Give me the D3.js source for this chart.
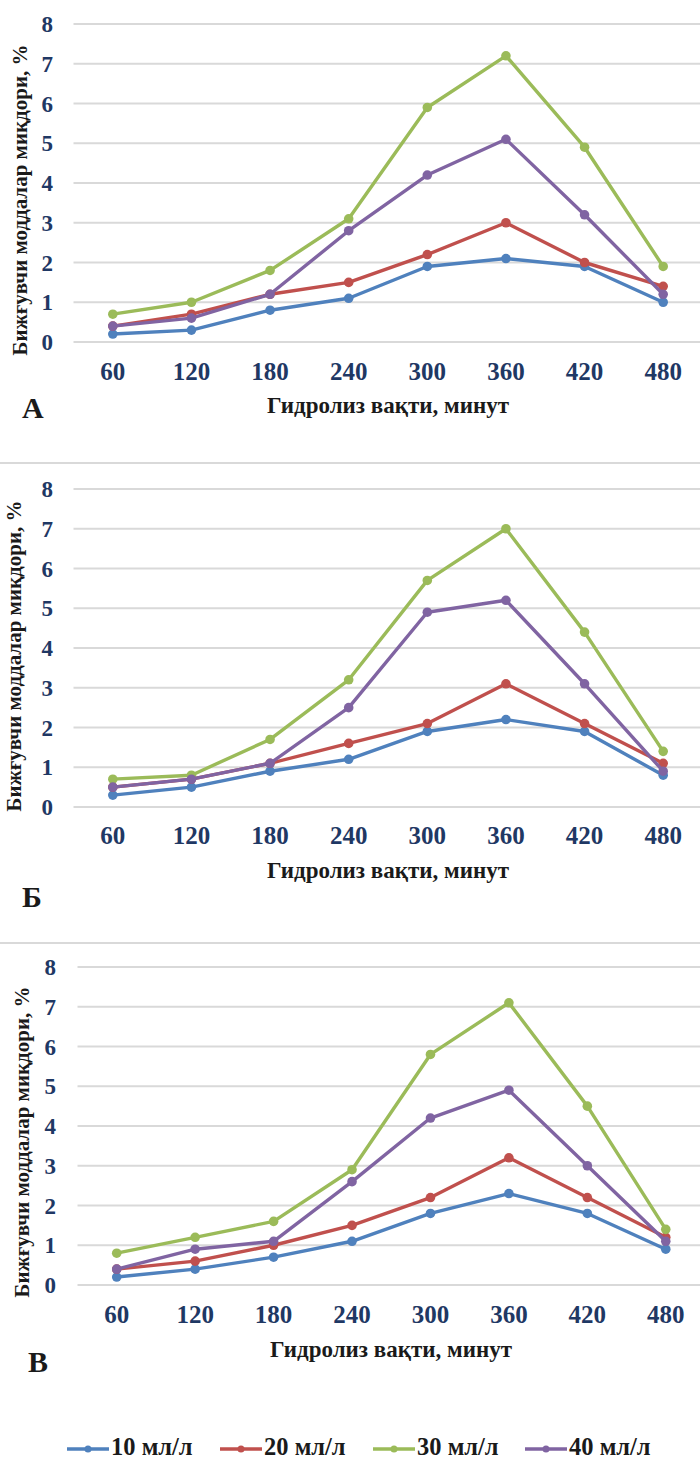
<!DOCTYPE html>
<html>
<head>
<meta charset="utf-8">
<script src="https://cdn.jsdelivr.net/npm/d3@7"></script>
<style>
  body { margin: 0; background: #fff; }
  svg { display: block; font-family: "Liberation Serif", "Times New Roman", serif; font-weight: bold; }
</style>
</head>
<body>
<div id="chart"></div>
<script>
// data
const times = ["60", "120", "180", "240", "300", "360", "420", "480"];
const seriesNames = ["10 мл/л", "20 мл/л", "30 мл/л", "40 мл/л"];
const yTicks = [0, 1, 2, 3, 4, 5, 6, 7, 8];

// panel А
const a10 = [0.2, 0.3, 0.8, 1.1, 1.9, 2.1, 1.9, 1.0];
const a20 = [0.4, 0.7, 1.2, 1.5, 2.2, 3.0, 2.0, 1.4];
const a30 = [0.7, 1.0, 1.8, 3.1, 5.9, 7.2, 4.9, 1.9];
const a40 = [0.4, 0.6, 1.2, 2.8, 4.2, 5.1, 3.2, 1.2];

// panel Б
const b10 = [0.3, 0.5, 0.9, 1.2, 1.9, 2.2, 1.9, 0.8];
const b20 = [0.5, 0.7, 1.1, 1.6, 2.1, 3.1, 2.1, 1.1];
const b30 = [0.7, 0.8, 1.7, 3.2, 5.7, 7.0, 4.4, 1.4];
const b40 = [0.5, 0.7, 1.1, 2.5, 4.9, 5.2, 3.1, 0.9];

// panel В
const c10 = [0.2, 0.4, 0.7, 1.1, 1.8, 2.3, 1.8, 0.9];
const c20 = [0.4, 0.6, 1.0, 1.5, 2.2, 3.2, 2.2, 1.2];
const c30 = [0.8, 1.2, 1.6, 2.9, 5.8, 7.1, 4.5, 1.4];
const c40 = [0.4, 0.9, 1.1, 2.6, 4.2, 4.9, 3.0, 1.1];

const colors = ["#4f81bd", "#c0504d", "#9bbb59", "#8064a2"];
const tickColor = "#1f3864";
const textColor = "#1a1a1a";
const gridColor = "#d9d9d9";

const yTitle = "Бижғувчи моддалар миқдори, %";
const xTitle = "Гидролиз вақти, минут";

const width = 700, height = 1461;

const panels = [
  { letter: "А", values: [a10, a20, a30, a40], top: 24, bottom: 342, x0: 73.5, x1: 702.5,
    yLabX: 53, yTitleX: 27, yTitleY: 200, xLabY: 380, xTitleX: 388, xTitleY: 413, letterX: 22, letterY: 418, sep: null },
  { letter: "Б", values: [b10, b20, b30, b40], top: 489, bottom: 807, x0: 73.5, x1: 702.5,
    yLabX: 53, yTitleX: 21, yTitleY: 656, xLabY: 844, xTitleX: 388, xTitleY: 878, letterX: 22, letterY: 907, sep: 463 },
  { letter: "В", values: [c10, c20, c30, c40], top: 967, bottom: 1285, x0: 77.5, x1: 705,
    yLabX: 56, yTitleX: 29, yTitleY: 1142, xLabY: 1323, xTitleX: 391, xTitleY: 1357, letterX: 28, letterY: 1372, sep: 943 }
];

const svg = d3.select("#chart")
  .append("svg")
    .attr("width", width)
    .attr("height", height)
    .attr("viewBox", [0, 0, width, height]);

panels.forEach(p => {
  const g = svg.append("g");

  const x = d3.scaleBand().domain(times).range([p.x0, p.x1]);
  const y = d3.scaleLinear().domain([0, 8]).range([p.bottom, p.top]);
  const cx = d => x(d) + x.bandwidth() / 2;

  if (p.sep !== null) {
    g.append("line")
      .attr("x1", 0).attr("x2", width)
      .attr("y1", p.sep).attr("y2", p.sep)
      .attr("stroke", gridColor).attr("stroke-width", 2);
  }

  // gridlines
  g.append("g")
    .selectAll("line")
    .data(yTicks)
    .join("line")
      .attr("x1", p.x0).attr("x2", p.x1)
      .attr("y1", d => y(d)).attr("y2", d => y(d))
      .attr("stroke", gridColor)
      .attr("stroke-width", 1.8);

  // y tick labels
  g.append("g")
    .selectAll("text")
    .data(yTicks)
    .join("text")
      .attr("x", p.yLabX)
      .attr("y", d => y(d) + 8)
      .attr("text-anchor", "end")
      .attr("fill", tickColor)
      .style("font-size", "23px")
      .text(d => d);

  // x tick labels
  g.append("g")
    .selectAll("text")
    .data(times)
    .join("text")
      .attr("x", d => cx(d))
      .attr("y", p.xLabY)
      .attr("text-anchor", "middle")
      .attr("fill", tickColor)
      .style("font-size", "25px")
      .text(d => d);

  // axis titles
  g.append("text")
    .attr("transform", `translate(${p.yTitleX},${p.yTitleY}) rotate(-90)`)
    .attr("text-anchor", "middle")
    .attr("fill", textColor)
    .style("font-size", "21px")
    .text(yTitle);

  g.append("text")
    .attr("x", p.xTitleX)
    .attr("y", p.xTitleY)
    .attr("text-anchor", "middle")
    .attr("fill", textColor)
    .style("font-size", "23px")
    .text(xTitle);

  g.append("text")
    .attr("x", p.letterX)
    .attr("y", p.letterY)
    .attr("fill", textColor)
    .style("font-size", "30px")
    .text(p.letter);

  // lines
  const line = d3.line()
    .x((d, i) => cx(times[i]))
    .y(d => y(d));

  p.values.forEach((vals, si) => {
    g.append("path")
      .datum(vals)
      .attr("fill", "none")
      .attr("stroke", colors[si])
      .attr("stroke-width", 3.4)
      .attr("stroke-linejoin", "round")
      .attr("d", line);

    g.append("g")
      .selectAll("circle")
      .data(vals)
      .join("circle")
        .attr("cx", (d, i) => cx(times[i]))
        .attr("cy", d => y(d))
        .attr("r", 4.8)
        .attr("fill", colors[si]);
  });
});

// legend
const legendX = [67, 220, 373, 525];
const legend = svg.append("g");
seriesNames.forEach((name, i) => {
  const lg = legend.append("g").attr("transform", `translate(${legendX[i]},1449)`);
  lg.append("line")
    .attr("x1", 0).attr("x2", 42)
    .attr("y1", 0).attr("y2", 0)
    .attr("stroke", colors[i])
    .attr("stroke-width", 3.4);
  lg.append("circle")
    .attr("cx", 21).attr("cy", 0).attr("r", 3.5)
    .attr("fill", colors[i]);
  lg.append("text")
    .attr("x", 44)
    .attr("y", 6)
    .attr("fill", textColor)
    .style("font-size", "24.5px")
    .text(name);
});
</script>
</body>
</html>
